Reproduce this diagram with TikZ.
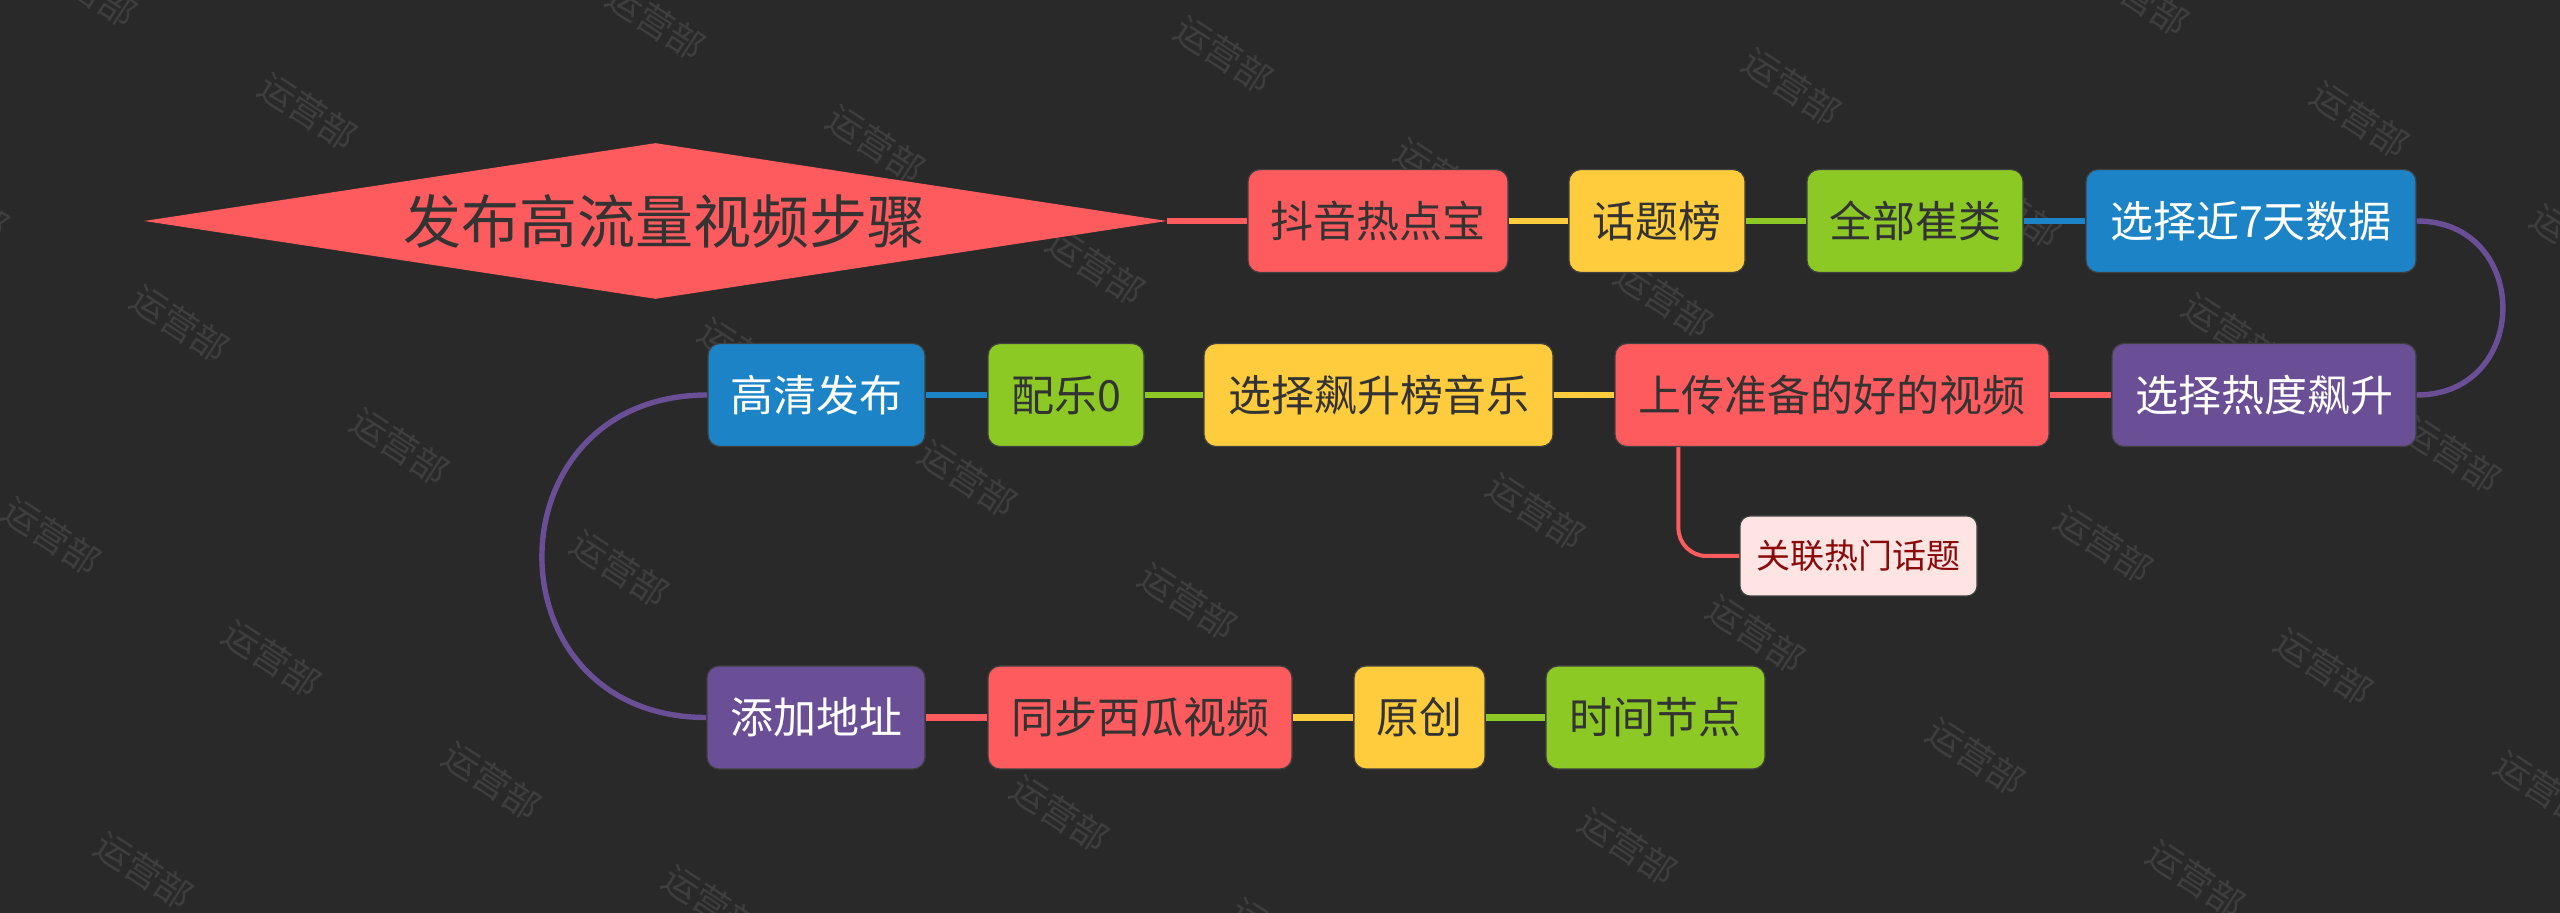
\documentclass[tikz,border=0pt]{standalone}
\usepackage{fontspec}
\newfontfamily\cjk{Noto Sans CJK SC}
\usetikzlibrary{shapes.geometric,backgrounds}
\definecolor{bg}{HTML}{292929}
\definecolor{wmgray}{HTML}{3E3E3E}
\definecolor{cred}{HTML}{FD5B5E}
\definecolor{cyellow}{HTML}{FFCC3D}
\definecolor{cgreen}{HTML}{8CC925}
\definecolor{cblue}{HTML}{1C84C6}
\definecolor{cpurple}{HTML}{6A4F96}
\definecolor{cpink}{HTML}{FFE4E4}
\definecolor{txtdark}{HTML}{333333}
\definecolor{txtred}{HTML}{8B0A0A}
\begin{document}
\begin{tikzpicture}[x=0.5pt,y=-0.5pt,
  box/.style={rounded corners=6pt, draw=black!75, line width=0.6pt, inner sep=0pt,
    minimum height=51.5pt, font=\cjk\fontsize{21.5}{24}\selectfont},
  redbox/.style={box, fill=cred, text=txtdark},
  yellowbox/.style={box, fill=cyellow, text=txtdark},
  greenbox/.style={box, fill=cgreen, text=txtdark},
  bluebox/.style={box, fill=cblue, text=white},
  purplebox/.style={box, fill=cpurple, text=white},
  link/.style={line width=3.2pt},
  curvelink/.style={line width=2.7pt},
  wm/.style={font=\cjk\fontsize{18}{20}\selectfont, text=wmgray, rotate=-33, inner sep=0pt}]
\useasboundingbox (0,0) rectangle (2560,913);

% title
\node[shape=diamond, fill=cred, aspect=6.56, minimum width=511.5pt, minimum height=78pt,
  inner sep=0pt, text=txtdark, font=\cjk\fontsize{29}{32}\selectfont] (title) at (655.5,221) {\hspace*{8.5pt}发布高流量视频步骤};

% row 1
\node[redbox, minimum width=130pt] (n1) at (1378,221) {抖音热点宝};
\node[yellowbox, minimum width=88pt] (n2) at (1657,221) {话题榜};
\node[greenbox, minimum width=108pt] (n3) at (1915,221) {全部崔类};
\node[bluebox, minimum width=165pt] (n4) at (2251,221) {选择近7天数据};
% row 2
\node[purplebox, minimum width=152pt] (n5) at (2264,395) {选择热度飙升};
\node[redbox, minimum width=217pt] (n6) at (1832,395) {上传准备的好的视频};
\node[yellowbox, minimum width=174.5pt] (n7) at (1378.5,395) {选择飙升榜音乐};
\node[greenbox, minimum width=78pt] (n8) at (1066,395) {配乐0};
\node[bluebox, minimum width=108.5pt] (n9) at (816.5,395) {高清发布};
% row 3
\node[purplebox, minimum width=109pt] (n10) at (816,717.5) {添加地址};
\node[redbox, minimum width=152pt] (n11) at (1140,717.5) {同步西瓜视频};
\node[yellowbox, minimum width=65.5pt] (n12) at (1419.5,717.5) {原创};
\node[greenbox, minimum width=109.5pt] (n13) at (1655.5,717.5) {时间节点};
% sub topic
\node[box, fill=cpink, text=txtred, minimum width=118.5pt, minimum height=40pt,
  rounded corners=5pt, font=\cjk\fontsize{17}{20}\selectfont] (rel) at (1858.5,556) {关联热门话题};

\begin{scope}[on background layer]
  \fill[bg] (0,0) rectangle (2560,913);
  \begin{scope}
    \clip (0,0) rectangle (2560,913);
    \foreach \i/\j in {5/-5, 1/-4, 2/-4, 3/-4, 4/-4, 5/-4, 1/-3, 2/-3, 3/-3, 4/-3, 5/-3,
        0/-2, 2/-2, 3/-2, 4/-2, 0/-1, 1/-1, 4/-1, 0/0, 1/0, 2/0, 3/0,
        -1/1, 0/1, 1/1, 2/1, 3/1, -1/2, 2/2, 3/2, -1/3, 0/3, 1/3, 2/3,
        -2/4, -1/4, 0/4}{
      \node[wm] (wm\i\j) at ({400+\i*568+\j*220},{446+\i*32.7+\j*122.5}) {运营部};
    }
  \end{scope}
  % connectors
  \draw[link, cred] (title.east) -- (n1.west);
  \draw[link, cyellow] (n1.east) -- (n2.west);
  \draw[link, cgreen] (n2.east) -- (n3.west);
  \draw[link, cblue] (n3.east) -- (n4.west);
  \draw[curvelink, cpurple] (n4.east) .. controls +(115,0) and +(115,0) .. (n5.east);
  \draw[link, cred] (n5.west) -- (n6.east);
  \draw[link, cyellow] (n6.west) -- (n7.east);
  \draw[link, cgreen] (n7.west) -- (n8.east);
  \draw[link, cblue] (n8.west) -- (n9.east);
  \draw[curvelink, cpurple] (n9.west) .. controls +(-220,0) and +(-220,0) .. (n10.west);
  \draw[link, cred] (n10.east) -- (n11.west);
  \draw[link, cyellow] (n11.east) -- (n12.west);
  \draw[link, cgreen] (n12.east) -- (n13.west);
  \draw[cred, line width=2pt, rounded corners=14pt] ([xshift=32pt]n6.south west) |- (rel.west);
\end{scope}
\end{tikzpicture}
\end{document}
